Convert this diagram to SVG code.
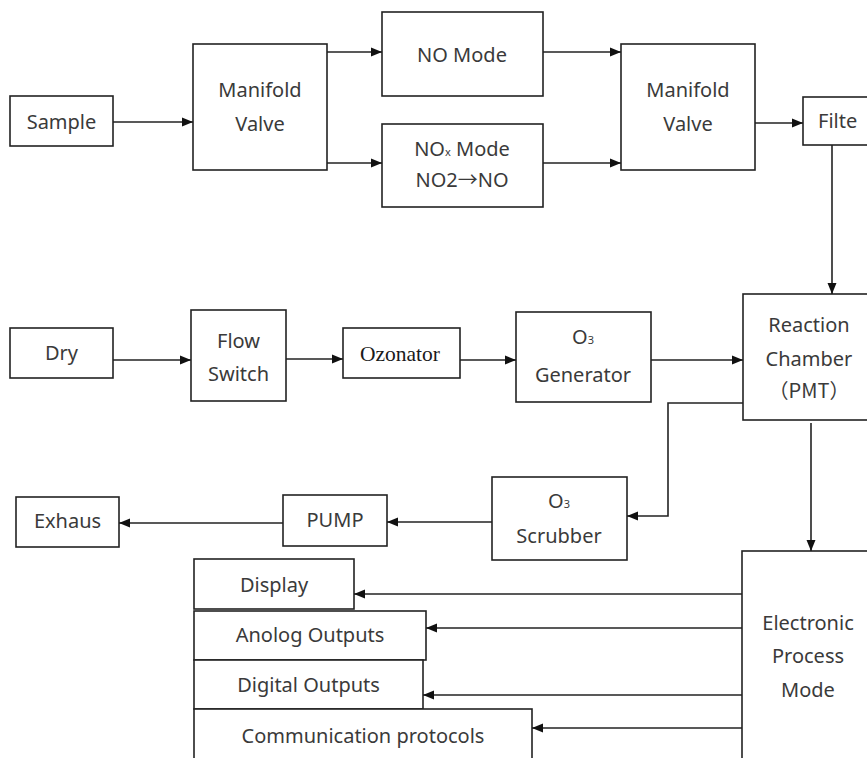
<svg xmlns="http://www.w3.org/2000/svg" width="867" height="758" viewBox="0 0 867 758">
<style>
.box{fill:#fff;stroke:#222;stroke-width:1.6}
.t{font-family:"Noto Sans","Liberation Sans",sans-serif;font-size:20px;fill:#3a3a3a;text-anchor:middle}
.serif{font-family:"Liberation Serif","Times New Roman",serif;font-size:21.5px;fill:#1a1a1a;text-anchor:middle}
.sub{font-size:11px}
.cjk{font-family:"Noto Sans CJK SC","Noto Sans",sans-serif}
.c{fill:none;stroke:#222;stroke-width:1.6}
</style>
<defs>
<marker id="arr" markerUnits="userSpaceOnUse" markerWidth="12" markerHeight="12" viewBox="0 0 12 12" refX="11" refY="6" orient="auto">
<path d="M0,1.5 L11,6 L0,10.5 Z" fill="#111"/>
</marker>
</defs>
<rect width="867" height="758" fill="#fff"/>
<g id="sample"><rect class="box" x="10" y="96" width="103" height="50"/><text class="t" x="61.5" y="129">Sample</text></g>
<g id="manifold1"><rect class="box" x="193" y="44" width="134" height="126"/><text class="t" x="260" y="97">Manifold</text><text class="t" x="260" y="131">Valve</text></g>
<g id="nomode"><rect class="box" x="382" y="12" width="161" height="84"/><text class="t" x="462" y="62">NO Mode</text></g>
<g id="noxmode"><rect class="box" x="382" y="124" width="161" height="83"/><text class="t" x="462" y="156">NO<tspan class="sub">x</tspan> Mode</text><text class="t" x="462" y="187">NO2<tspan class="cjk">→</tspan>NO</text></g>
<g id="manifold2"><rect class="box" x="621" y="44" width="134" height="126"/><text class="t" x="688" y="97">Manifold</text><text class="t" x="688" y="131">Valve</text></g>
<g id="filte"><rect class="box" x="803" y="97" width="80" height="48"/><text class="t" x="818" y="128" style="text-anchor:start">Filte</text></g>
<g id="reaction"><rect class="box" x="743" y="294" width="140" height="126"/><text class="t" x="809" y="332">Reaction</text><text class="t" x="809" y="366">Chamber</text><text class="t cjk" x="809" y="398">（PMT）</text></g>
<g id="dry"><rect class="box" x="10" y="328" width="103" height="50"/><text class="t" x="61.5" y="360">Dry</text></g>
<g id="flowswitch"><rect class="box" x="191" y="310" width="95" height="91"/><text class="t" x="238.5" y="348">Flow</text><text class="t" x="238.5" y="381">Switch</text></g>
<g id="ozonator"><rect class="box" x="343" y="328" width="117" height="50"/><text class="serif" x="400" y="361">Ozonator</text></g>
<g id="o3gen"><rect class="box" x="516" y="312" width="135" height="90"/><text class="t" x="583" y="344">O<tspan class="sub">3</tspan></text><text class="t" x="583" y="382">Generator</text></g>
<g id="scrubber"><rect class="box" x="492" y="477" width="135" height="83"/><text class="t" x="559" y="508">O<tspan class="sub">3</tspan></text><text class="t" x="559" y="543">Scrubber</text></g>
<g id="pump"><rect class="box" x="283" y="495" width="104" height="51"/><text class="t" x="335" y="527">PUMP</text></g>
<g id="exhaus"><rect class="box" x="16" y="497" width="103" height="50"/><text class="t" x="67.5" y="528">Exhaus</text></g>
<g id="electronic"><rect class="box" x="742" y="551" width="140" height="220"/><text class="t" x="808" y="630">Electronic</text><text class="t" x="808" y="663">Process</text><text class="t" x="808" y="697">Mode</text></g>
<g id="display"><rect class="box" x="194" y="559" width="160" height="50"/><text class="t" x="274" y="592">Display</text></g>
<g id="anolog"><rect class="box" x="194" y="611" width="232" height="49"/><text class="t" x="310" y="642">Anolog Outputs</text></g>
<g id="digital"><rect class="box" x="194" y="660" width="229" height="49"/><text class="t" x="308.5" y="692">Digital Outputs</text></g>
<g id="comm"><rect class="box" x="194" y="709" width="338" height="60"/><text class="t" x="363" y="743">Communication protocols</text></g>
<g id="connectors">
<path class="c" d="M113,122 H193" marker-end="url(#arr)"/>
<path class="c" d="M327,52 H382" marker-end="url(#arr)"/>
<path class="c" d="M327,163 H382" marker-end="url(#arr)"/>
<path class="c" d="M543,52 H621" marker-end="url(#arr)"/>
<path class="c" d="M543,163 H621" marker-end="url(#arr)"/>
<path class="c" d="M755,123 H803" marker-end="url(#arr)"/>
<path class="c" d="M832,145 V294" marker-end="url(#arr)"/>
<path class="c" d="M113,360 H191" marker-end="url(#arr)"/>
<path class="c" d="M286,359 H343" marker-end="url(#arr)"/>
<path class="c" d="M460,360 H516" marker-end="url(#arr)"/>
<path class="c" d="M651,360 H743" marker-end="url(#arr)"/>
<path class="c" d="M743,403 H668 V516 H627" marker-end="url(#arr)"/>
<path class="c" d="M811,423 V551" marker-end="url(#arr)"/>
<path class="c" d="M492,522 H387" marker-end="url(#arr)"/>
<path class="c" d="M283,523 H119" marker-end="url(#arr)"/>
<path class="c" d="M742,594 H354" marker-end="url(#arr)"/>
<path class="c" d="M742,628 H426" marker-end="url(#arr)"/>
<path class="c" d="M742,695 H423" marker-end="url(#arr)"/>
<path class="c" d="M742,728 H532" marker-end="url(#arr)"/>
</g>
</svg>
